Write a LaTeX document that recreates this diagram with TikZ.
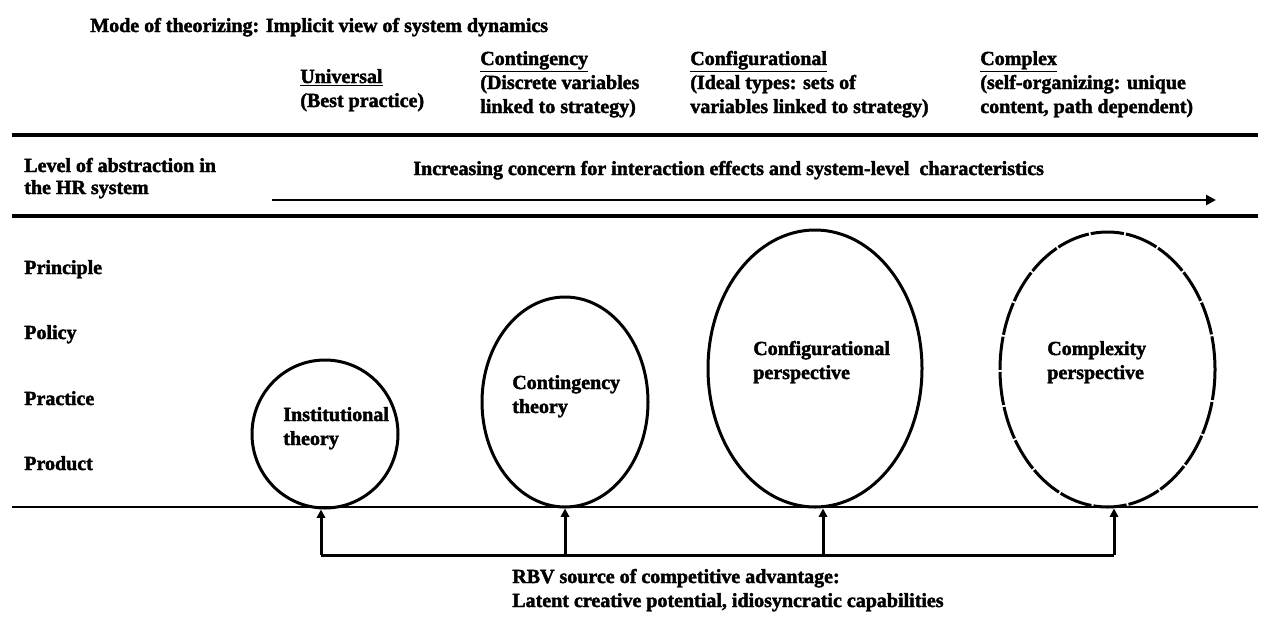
\documentclass[tikz,border=0pt]{standalone}
\usepackage{fontspec}
\setmainfont{Liberation Serif}[BoldFeatures={FakeBold=2}]
\usetikzlibrary{shapes.geometric,arrows.meta}

\begin{document}
\begin{tikzpicture}[x=0.6pt,y=-0.6pt,
  txt/.style={anchor=base west,inner sep=0pt,font=\bfseries\fontsize{12}{14.4}\selectfont},
  rulethick/.style={line width=2.9pt},
  rulethin/.style={line width=1.5pt},
  bubble/.style={draw,ellipse,line width=1.8pt,inner sep=0pt},
  conn/.style={line width=1.8pt},
  uparrow/.style={conn,-{Triangle[length=5pt,width=5pt]}},
]
\useasboundingbox (0,0) rectangle (1265,631);

% heading and the four modes of theorizing
\node[txt] (title) at (90,32) {Mode of theorizing: Implicit view of system dynamics};
\node[txt] (u1) at (300,83)  {\underline{Universal}};
\node[txt] (u2) at (300,107) {(Best practice)};
\node[txt] (c1) at (480,65)  {\underline{Contingency}};
\node[txt] (c2) at (480,89)  {(Discrete variables};
\node[txt] (c3) at (480,113) {linked to strategy)};
\node[txt] (g1) at (690,65)  {\underline{Configurational}};
\node[txt] (g2) at (690,89)  {(Ideal types: sets of};
\node[txt] (g3) at (690,113) {variables linked to strategy)};
\node[txt] (x1) at (980,65)  {\underline{Complex}};
\node[txt] (x2) at (980,89)  {(self-organizing: unique};
\node[txt] (x3) at (980,113) {content, path dependent)};

\draw[rulethick] (12,135) -- (1258,135);

% level of abstraction row
\node[txt] (lv1) at (24,172) {Level of abstraction in};
\node[txt] (lv2) at (24,194) {the HR system};
\node[txt] (inc) at (413,175) {Increasing concern for interaction effects and system-level\ \ characteristics};
\coordinate (ia) at (272,200);
\coordinate (ib) at (1216,200);
\draw[rulethin,-{Triangle[length=6pt,width=6pt]}] (ia) -- (ib);

\draw[rulethick] (12,216) -- (1258,216);

% levels
\node[txt] (p1) at (24,274) {Principle};
\node[txt] (p2) at (24,339) {Policy};
\node[txt] (p3) at (24,405) {Practice};
\node[txt] (p4) at (24,470) {Product};

% perspectives
\node[bubble,minimum width=87.6pt,minimum height=88.8pt] (e1) at (325,434) {};
\node[bubble,minimum width=99.6pt,minimum height=126pt] (e2) at (565,402) {};
\node[bubble,minimum width=128.4pt,minimum height=166.2pt] (e3) at (815,368.5) {};
\node[bubble,dash pattern=on 20pt off 1.2pt,minimum width=129pt,minimum height=165pt] (e4) at (1107.5,369.5) {};

\node[txt] (t1a) at (283,421) {Institutional};
\node[txt] (t1b) at (283,445) {theory};
\node[txt] (t2a) at (512,389) {Contingency};
\node[txt] (t2b) at (512,413) {theory};
\node[txt] (t3a) at (753,355) {Configurational};
\node[txt] (t3b) at (753,379) {perspective};
\node[txt] (t4a) at (1047,355) {Complexity};
\node[txt] (t4b) at (1047,379) {perspective};

\draw[line width=1.5pt] (12,507) -- (1258,507);

% RBV connectors
\coordinate (f1) at (321,555);
\coordinate (f2) at (565,555);
\coordinate (f3) at (823,555);
\coordinate (f4) at (1114,555);
\draw[conn] (f1) -- (f4);
\draw[uparrow] (f1) -- (f1 |- e1.south);
\draw[uparrow] (f2) -- (f2 |- e2.south);
\draw[uparrow] (f3) -- (f3 |- e3.south);
\draw[uparrow] (f4) -- (f4 |- e4.south);

\node[txt] (rbv1) at (512,583) {RBV source of competitive advantage:};
\node[txt] (rbv2) at (512,607) {Latent creative potential, idiosyncratic capabilities};
\end{tikzpicture}
\end{document}
